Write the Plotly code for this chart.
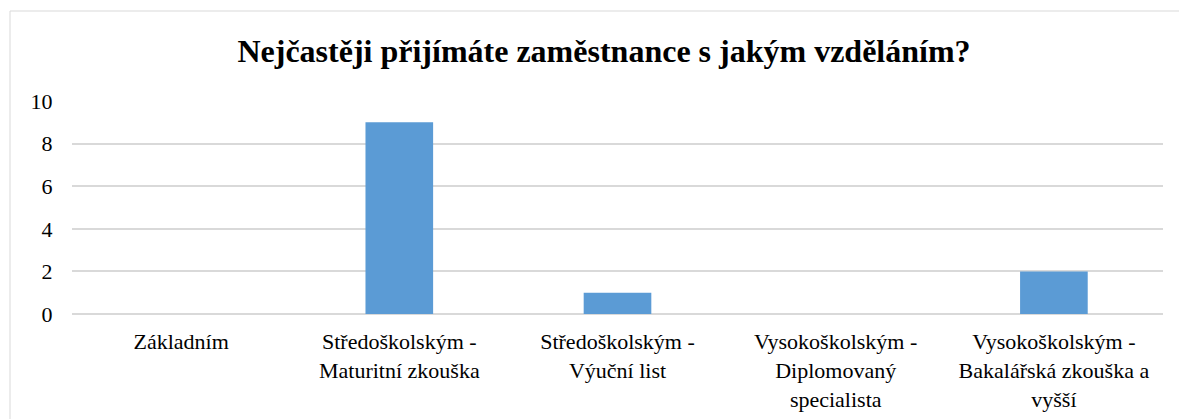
import plotly.graph_objects as go

categories = [
    "Základním",
    "Středoškolským -<br>Maturitní zkouška",
    "Středoškolským -<br>Výuční list",
    "Vysokoškolským -<br>Diplomovaný<br>specialista",
    "Vysokoškolským -<br>Bakalářská zkouška a<br>vyšší",
]
values = [0, 9, 1, 0, 2]
y_ticks = [0, 2, 4, 6, 8, 10]
title_text = "Nejčastěji přijímáte zaměstnance s jakým vzděláním?"

W, H = 1179, 419
L, R, T, B = 72, 16, 101, 105
pw = W - L - R
ph = H - T - B

fig = go.Figure(
    go.Bar(
        x=categories,
        y=values,
        marker=dict(color="#5B9BD5", line=dict(width=0)),
    )
)

fig.update_layout(
    width=W,
    height=H,
    margin=dict(l=L, r=R, t=T, b=B, pad=0),
    paper_bgcolor="white",
    plot_bgcolor="white",
    bargap=0.69,
    showlegend=False,
    font=dict(family="Liberation Serif, Times New Roman, serif", size=22, color="#000000"),
    title=dict(
        text="<b>" + title_text + "</b>",
        x=604 / W,
        xanchor="center",
        xref="container",
        y=1 - 51 / H,
        yanchor="middle",
        yref="container",
        font=dict(family="Liberation Serif, Times New Roman, serif", size=32, color="#000000"),
    ),
    xaxis=dict(
        automargin=False,
        showgrid=False,
        showline=False,
        zeroline=False,
        ticks="outside",
        ticklen=8,
        tickcolor="rgba(0,0,0,0)",
        tickfont=dict(size=22),
    ),
    yaxis=dict(
        automargin=False,
        range=[0, 10],
        tickvals=y_ticks,
        showgrid=True,
        gridcolor="#D9D9D9",
        gridwidth=1.5,
        zeroline=True,
        zerolinecolor="#D9D9D9",
        zerolinewidth=1.5,
        showline=False,
        ticks="outside",
        ticklen=14,
        tickcolor="rgba(0,0,0,0)",
        tickfont=dict(size=22),
    ),
    shapes=[
        dict(
            type="rect",
            xref="paper",
            yref="paper",
            x0=(10 - L) / pw,
            x1=(W + 10 - L) / pw,
            y0=-(H + 10 - T - ph) / ph,
            y1=(H - 11 - B) / ph,
            line=dict(color="#D9D9D9", width=1),
            fillcolor="rgba(0,0,0,0)",
            layer="below",
        )
    ],
)

fig.write_html(
    "out.html",
    config={"displayModeBar": False},
    post_script="document.body.style.margin='0px';",
)
